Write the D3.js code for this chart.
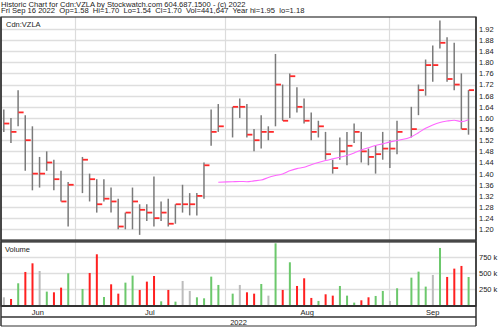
<!DOCTYPE html>
<html>
<head>
<meta charset="utf-8">
<script src="https://cdn.jsdelivr.net/npm/d3@7"></script>
<style>
  html, body { margin: 0; padding: 0; background: #fff; }
  svg { display: block; }
  text { font-family: "Liberation Sans", Arial, sans-serif; fill: #222; }
</style>
</head>
<body>
<svg id="chart" width="500" height="327"></svg>
<script>
// ---------------- data ----------------
const dates = ["2022-06-17","2022-06-20","2022-06-21","2022-06-22","2022-06-23","2022-06-24","2022-06-27","2022-06-28","2022-06-29","2022-06-30",
  "2022-07-04","2022-07-05","2022-07-06","2022-07-07","2022-07-08","2022-07-11","2022-07-12","2022-07-13","2022-07-14","2022-07-15",
  "2022-07-18","2022-07-19","2022-07-20","2022-07-21","2022-07-22","2022-07-25","2022-07-26","2022-07-27","2022-07-28","2022-07-29",
  "2022-08-02","2022-08-03","2022-08-04","2022-08-05","2022-08-08","2022-08-09","2022-08-10","2022-08-11","2022-08-12","2022-08-15",
  "2022-08-16","2022-08-17","2022-08-18","2022-08-19","2022-08-22","2022-08-23","2022-08-24","2022-08-25","2022-08-26","2022-08-29",
  "2022-08-30","2022-08-31","2022-09-01","2022-09-02","2022-09-06","2022-09-07","2022-09-08","2022-09-09","2022-09-12","2022-09-13",
  "2022-09-14","2022-09-15","2022-09-16"];
const highs = [1.63,1.60,1.70,1.61,1.57,1.46,1.48,1.45,1.41,1.37,
  1.46,1.40,1.38,1.38,1.35,1.31,1.26,1.35,1.29,1.29,
  1.39,1.30,1.31,1.29,1.36,1.33,1.33,1.44,1.63,1.65,
  1.64,1.67,1.65,1.56,1.61,1.57,1.83,1.72,1.76,1.71,
  1.67,1.62,1.59,1.55,1.45,1.53,1.55,1.58,1.55,1.49,
  1.50,1.55,1.52,1.59,1.64,1.72,1.81,1.86,1.95,1.89,
  1.87,1.76,1.70];
const lows = [1.55,1.51,1.57,1.41,1.34,1.35,1.41,1.34,1.30,1.21,
  1.33,1.30,1.26,1.30,1.26,1.20,1.20,1.20,1.18,1.23,
  1.21,1.23,1.21,1.22,1.26,1.25,1.25,1.31,1.50,1.55,
  1.53,1.60,1.53,1.48,1.49,1.52,1.57,1.59,1.60,1.62,
  1.58,1.52,1.53,1.45,1.40,1.45,1.43,1.51,1.44,1.43,
  1.40,1.45,1.42,1.47,1.53,1.61,1.68,1.73,1.85,1.73,
  1.70,1.56,1.54];
const closes = [1.58,1.55,1.62,1.52,1.40,1.40,1.44,1.38,1.30,1.36,
  1.45,1.38,1.29,1.31,1.30,1.21,1.26,1.30,1.27,1.26,
  1.24,1.26,1.22,1.29,1.29,1.29,1.32,1.43,1.55,1.57,
  1.64,1.64,1.54,1.52,1.55,1.55,1.72,1.59,1.75,1.64,
  1.59,1.55,1.57,1.47,1.42,1.48,1.50,1.55,1.48,1.46,
  1.47,1.49,1.49,1.55,1.56,1.70,1.79,1.79,1.87,1.74,
  1.72,1.56,1.70];
const prevClose = 1.58; // close before the first visible day
const volumes = [125,99,344,521,656,536,214,203,276,500,
  255,505,797,130,328,182,354,464,240,370,
  458,62,240,57,380,224,125,109,448,318,
  182,318,203,182,333,151,969,240,672,302,
  422,115,68,172,151,302,151,42,78,125,
  146,224,68,266,432,526,292,474,896,443,
  573,615,442]; // thousands
const maValues = [null,null,null,null,null,null,null,null,null,null,
  null,null,null,null,null,null,null,null,null,null,
  null,null,null,null,null,null,null,null,null,1.369,
  1.371,1.372,1.371,1.374,1.377,1.386,1.393,1.399,1.410,1.418,
  1.423,1.432,1.440,1.447,1.453,1.459,1.465,1.474,1.485,1.493,
  1.501,1.507,1.514,1.519,1.532,1.547,1.563,1.575,1.584,1.589,
  1.592,1.587,1.594];
const priceTicks = [1.20,1.24,1.28,1.32,1.36,1.40,1.44,1.48,1.52,1.56,1.60,1.64,1.68,1.72,1.76,1.80,1.84,1.88,1.92];
const volTicks = [250,500,750];
const monthStarts = ["2022-06-01","2022-07-01","2022-08-01","2022-09-01"];
const monthLabels = ["Jun","Jul","Aug","Sep"];
const yearLabel = "2022";
const titleLine1 = "Historic Chart for Cdn:VZLA by Stockwatch.com 604.687.1500 - (c) 2022";
const titleLine2 = "Fri Sep 16 2022  Op=1.58  Hi=1.70  Lo=1.54  Cl=1.70  Vol=441,647  Year hi=1.95  lo=1.18";
const symbolLabel = "Cdn:VZLA";
const volumeLabel = "Volume";

// ---------------- layout ----------------
const svg = d3.select("#chart");
const L = 1, R = 476;
const priceTop = 17, priceBot = 240;
const volTop = 242, volBot = 306;
const monthBot = 317, yearBot = 326;

const parse = d3.utcParse("%Y-%m-%d");
const start = parse(dates[0]);
function slotIndex(d) {
  // count weekdays from the first date
  const days = d3.utcDay.count(start, d);
  let n = 0;
  for (let k = 0; k < days; k++) {
    const t = d3.utcDay.offset(start, k + 1);
    const wd = t.getUTCDay();
    if (wd !== 0 && wd !== 6) n++;
  }
  if (days < 0) {
    let m = 0;
    for (let k = 0; k < -days; k++) {
      const t = d3.utcDay.offset(start, -k);
      const wd = t.getUTCDay();
      if (wd !== 0 && wd !== 6) m++;
    }
    return -m;
  }
  return n;
}
const idx = dates.map(s => slotIndex(parse(s)));

const x = d3.scaleLinear().domain([0, 65]).range([3.3, 468]);
const y = d3.scaleLinear().domain([1.20, 1.92]).range([229.3, 28.9]);
const yv = d3.scaleLinear().domain([0, 750]).range([305.3, 257.3]);

// ---------------- grid ----------------
const gGrid = svg.append("g");
gGrid.selectAll("line.pg").data(priceTicks).join("line")
  .attr("x1", L).attr("x2", R)
  .attr("y1", d => Math.round(y(d)) + 0.5).attr("y2", d => Math.round(y(d)) + 0.5)
  .attr("stroke", "#dedede").attr("stroke-width", 1.3);
gGrid.selectAll("line.vg").data(volTicks).join("line")
  .attr("x1", L).attr("x2", R)
  .attr("y1", d => Math.round(yv(d)) + 0.5).attr("y2", d => Math.round(yv(d)) + 0.5)
  .attr("stroke", "#dedede").attr("stroke-width", 1.3);

const monthX = monthStarts.map(s => x(slotIndex(parse(s))));
const innerMonthX = monthX.slice(1);
gGrid.selectAll("line.mx").data(innerMonthX).join("line")
  .attr("x1", d => Math.round(d) + 0.5).attr("x2", d => Math.round(d) + 0.5)
  .attr("y1", priceTop).attr("y2", priceBot)
  .attr("stroke", "#dcdcdc").attr("stroke-width", 1.2);
gGrid.selectAll("line.mx2").data(innerMonthX).join("line")
  .attr("x1", d => Math.round(d) + 0.5).attr("x2", d => Math.round(d) + 0.5)
  .attr("y1", volTop).attr("y2", volBot)
  .attr("stroke", "#dcdcdc").attr("stroke-width", 1.2);

// ---------------- price bars ----------------
const bars = dates.map((d, i) => ({i: idx[i], h: highs[i], l: lows[i], c: closes[i], v: volumes[i], ma: maValues[i],
  dir: closes[i] > (i ? closes[i-1] : prevClose) ? 1 : closes[i] < (i ? closes[i-1] : prevClose) ? -1 : 0}));

const gP = svg.append("g");
gP.selectAll("line.hl").data(bars).join("line")
  .attr("x1", d => x(d.i) + 0.5).attr("x2", d => x(d.i) + 0.5)
  .attr("y1", d => y(d.h)).attr("y2", d => y(d.l))
  .attr("stroke", "#7a7a7a").attr("stroke-width", 1.5);
gP.selectAll("line.cl").data(bars).join("line")
  .attr("x1", d => x(d.i) + 0.8).attr("x2", d => x(d.i) + 6)
  .attr("y1", d => y(d.c)).attr("y2", d => y(d.c))
  .attr("stroke", "#ff2a2a").attr("stroke-width", 1.8);

// moving average
const maLine = d3.line().defined(d => d.ma != null).x(d => x(d.i) + 0.5).y(d => y(d.ma)).curve(d3.curveMonotoneX);
gP.append("path").datum(bars).attr("d", maLine)
  .attr("fill", "none").attr("stroke", "#ff66ff").attr("stroke-width", 1.1);

// ---------------- volume ----------------
const volColor = d => d.dir > 0 ? "#6cc86c" : d.dir < 0 ? "#ff2020" : "#bcbcbc";
svg.append("g").selectAll("rect").data(bars).join("rect")
  .attr("x", d => x(d.i) - 0.4).attr("width", 2)
  .attr("y", d => yv(d.v)).attr("height", d => volBot - yv(d.v))
  .attr("fill", volColor);

// ---------------- axes ----------------
const pAxis = d3.axisRight(y).tickValues(priceTicks).tickSize(0).tickPadding(3).tickFormat(d3.format(".2f"));
const gPA = svg.append("g").attr("transform", `translate(${R},0)`).call(pAxis);
gPA.select(".domain").remove();
gPA.selectAll("text").style("font-family", "'Liberation Sans', Arial, sans-serif").style("font-size", "7.5px").attr("fill", "#333");

const vAxis = d3.axisRight(yv).tickValues(volTicks).tickSize(0).tickPadding(3).tickFormat(d => d + " k");
const gVA = svg.append("g").attr("transform", `translate(${R},0)`).call(vAxis);
gVA.select(".domain").remove();
gVA.selectAll("text").style("font-family", "'Liberation Sans', Arial, sans-serif").style("font-size", "7.5px").attr("fill", "#333");

// month labels
const bounds = [L].concat(innerMonthX).concat([R]);
svg.append("g").selectAll("text").data(monthLabels).join("text")
  .attr("x", (d, k) => (bounds[k] + bounds[k+1]) / 2)
  .attr("y", 315)
  .attr("text-anchor", "middle")
  .style("font-size", "7.5px")
  .text(d => d);
svg.append("text").attr("x", (L + R) / 2).attr("y", 325).attr("text-anchor", "middle")
  .style("font-size", "7.5px").text(yearLabel);

// ---------------- frames ----------------
const frame = svg.append("g").attr("fill", "none").attr("stroke", "#333");
frame.append("rect").attr("x", L).attr("y", priceTop).attr("width", R - L).attr("height", priceBot - priceTop).attr("stroke-width", 1.2);
frame.append("rect").attr("x", L).attr("y", volTop).attr("width", R - L).attr("height", volBot - volTop).attr("stroke-width", 1.2);
frame.append("line").attr("x1", L).attr("x2", R).attr("y1", priceBot + 1).attr("y2", priceBot + 1).attr("stroke-width", 1.5);
frame.append("line").attr("x1", L).attr("x2", R).attr("y1", volBot).attr("y2", volBot).attr("stroke-width", 1.8);
frame.append("line").attr("x1", L).attr("x2", R).attr("y1", monthBot).attr("y2", monthBot).attr("stroke-width", 1.5);
frame.append("line").attr("x1", L).attr("x2", R).attr("y1", yearBot).attr("y2", yearBot).attr("stroke-width", 1.2);
frame.append("line").attr("x1", L).attr("x2", L).attr("y1", priceTop).attr("y2", yearBot).attr("stroke-width", 1.5);
frame.append("line").attr("x1", R).attr("x2", R).attr("y1", priceTop).attr("y2", yearBot).attr("stroke-width", 1.5);

// ---------------- texts ----------------
svg.append("text").attr("x", 1).attr("y", 6.6).style("font-size", "7.6px").style("white-space", "pre").text(titleLine1);
svg.append("text").attr("x", 1).attr("y", 12.6).style("font-size", "7.6px").style("white-space", "pre").text(titleLine2);
svg.append("text").attr("x", 6).attr("y", 26.5).style("font-size", "7.5px").attr("fill", "#333").text(symbolLabel);
svg.append("text").attr("x", 5).attr("y", 251.5).style("font-size", "7.5px").attr("fill", "#333").text(volumeLabel);
</script>
</body>
</html>
